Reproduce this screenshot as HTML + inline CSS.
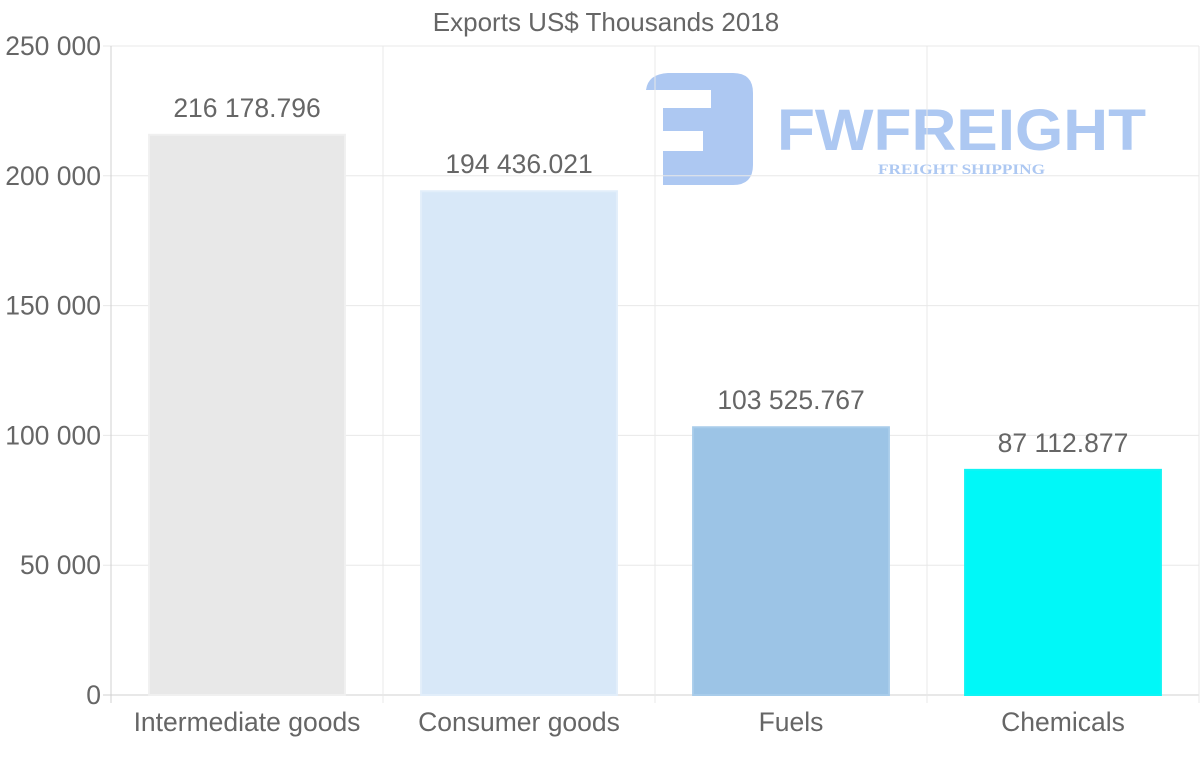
<!DOCTYPE html>
<html><head><meta charset="utf-8"><style>
html,body{margin:0;padding:0;background:#fff;}
svg{display:block;font-family:"Liberation Sans",sans-serif;}
</style></head><body>
<svg id="chart" width="1200" height="763" viewBox="0 0 1200 763" xmlns="http://www.w3.org/2000/svg">
<g id="logo" fill="#adc8f2">
  <path d="M646 90 Q648 74 668 73 H733 Q753 73 753 93 V165 Q753 185 733 185 H663 V151 H703 V131 H663 V108 H711 V90 Z"/>
  <text x="777" y="150" font-size="58" font-weight="bold" textLength="369" lengthAdjust="spacingAndGlyphs">FWFREIGHT</text>
  <text x="878" y="174" font-size="15" font-weight="bold" font-family="Liberation Serif,serif" textLength="167" lengthAdjust="spacingAndGlyphs">FREIGHT SHIPPING</text>
</g>
<g id="grid"></g>
<g id="bars"></g>
<text x="606" y="31" font-size="26" fill="#666" text-anchor="middle">Exports US$ Thousands 2018</text>
</svg>
<script>
const categories = ["Intermediate goods","Consumer goods","Fuels","Chemicals"];
const values = [216178.796,194436.021,103525.767,87112.877];
const valueLabels = ["216 178.796","194 436.021","103 525.767","87 112.877"];
const yTicks = [0,50000,100000,150000,200000,250000];
const yTickLabels = ["0","50 000","100 000","150 000","200 000","250 000"];
const colors = ["#e8e8e8","#d8e8f8","#9cc4e6","#00f8f8"];
const borders = ["#f0f0f0","#e2eefa","#a8ccea","#10f4f4"];

const NS="http://www.w3.org/2000/svg";
const L=111,R=1199,T=46,B=695,yMax=250000;
const y=v=>B-(v/yMax)*(B-T);
const bw=(R-L)/categories.length;
const x=i=>L+i*bw;
function mk(tag,attrs,parent){const e=document.createElementNS(NS,tag);for(const k in attrs)e.setAttribute(k,attrs[k]);parent.appendChild(e);return e;}
const grid=document.getElementById('grid'),bars=document.getElementById('bars');
yTicks.forEach((t,i)=>{
  const ln=mk('line',{x1:L-8,x2:R,y1:y(t),y2:y(t),stroke:i===0?'#d0d0d0':'#e8e8e8','stroke-width':1},grid);
  
  
  const tx=mk('text',{x:L-10,y:y(t)+9,'font-size':26.5,fill:'#666','text-anchor':'end'},grid);
  tx.textContent=yTickLabels[i];
  
  
});
for(let i=0;i<=categories.length;i++){
  const ln=mk('line',{x1:x(i),x2:x(i),y1:T,y2:B+8,stroke:i===0?'#d0d0d0':'#e8e8e8','stroke-width':1},grid);
  
  
}
categories.forEach((c,i)=>{
  const w=bw*0.72,bx=x(i)+(bw-w)/2;
  const r=mk('rect',{x:bx,y:y(values[i])+1,width:w,height:B-y(values[i])-1,fill:colors[i],stroke:borders[i],'stroke-width':2},bars);
  
  
  const vl=mk('text',{x:x(i)+bw/2,y:y(values[i])-17,'font-size':26.5,fill:'#666','text-anchor':'middle'},bars);
  vl.textContent=valueLabels[i];
  
  
  const xl=mk('text',{x:x(i)+bw/2,y:731,'font-size':26.5,fill:'#666','text-anchor':'middle'},bars);
  xl.textContent=c;
  
  
});
</script>
</body></html>
